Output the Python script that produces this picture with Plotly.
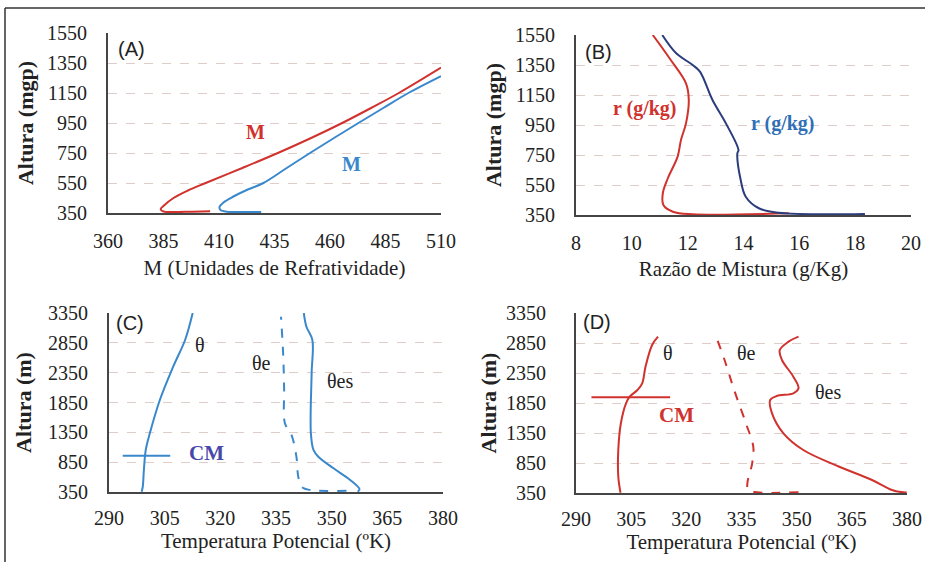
import plotly.graph_objects as go

W, H = 925, 562

# ---------------- data ----------------
# Panel A: Refractivity M vs height
a_red_x = [406, 398, 389, 385, 383.7, 385.2, 389.5, 396, 404, 420.5, 436.5, 451.5, 465.5, 478.5, 491, 510]
a_red_y = [362, 359, 356, 360, 375, 400, 450, 500, 550, 650, 750, 850, 950, 1050, 1150, 1319]
a_blue_x = [429, 420, 413.5, 410.8, 410.2, 412, 416.5, 422, 430, 440.5, 451, 461.8, 472.8, 484, 495.3, 510]
a_blue_y = [357, 356, 359, 368, 388, 420, 460, 500, 550, 650, 750, 850, 950, 1050, 1150, 1263]
a_xticks = [360, 385, 410, 435, 460, 485, 510]
a_yticks = [350, 550, 750, 950, 1150, 1350, 1550]

# Panel B: mixing ratio
b_red_x = [15.62, 12.18, 11.47, 11.13, 11.11, 11.29, 11.64, 11.76, 11.94, 12.04, 11.94, 11.35, 10.75]
b_red_y = [361, 355, 372, 417, 495, 595, 739, 850, 961, 1117, 1228, 1395, 1550]
b_blue_x = [18.35, 15.26, 14.55, 14.08, 13.90, 13.78, 13.82, 13.37, 12.89, 12.44, 12.18, 11.59, 11.09]
b_blue_y = [357, 365, 395, 472, 583, 761, 783, 961, 1117, 1306, 1350, 1428, 1550]
b_xticks = [8, 10, 12, 14, 16, 18, 20]
b_yticks = [350, 550, 750, 950, 1150, 1350, 1550]

# Panel C: potential temperatures (blue case)
c_theta_x = [298.8, 299.1, 299.4, 299.9, 301.0, 303.7, 307.3, 310.5, 312.55]
c_theta_y = [355, 438, 718, 1054, 1333, 1892, 2451, 2898, 3350]
c_thetae_x = [354.0, 344.2, 341.9, 341.0, 340.5, 339.2, 337.4, 337.2, 336.96, 336.35]
c_thetae_y = [372, 384, 439, 606, 942, 1305, 1501, 2060, 2618, 3288]
c_thetaes_x = [357.0, 357.5, 355.0, 350.5, 346.4, 345.1, 344.4, 344.6, 344.8, 343.2, 342.5]
c_thetaes_y = [355, 395, 551, 747, 942, 1054, 1333, 2339, 2898, 3120, 3350]
c_cm_x = [293.7, 306.5]
c_cm_y = [959, 959]

# Panel D: potential temperatures (red case)
d_theta_x = [302.1, 301.5, 301.5, 302.2, 303.6, 304.6, 306.7, 308.0, 308.9, 310.7, 312.3]
d_theta_y = [355, 622, 1067, 1512, 1845, 1955, 2067, 2178, 2455, 2817, 2955]
d_thetae_x = [350.5, 339.3, 336.8, 336.6, 337.9, 338.2, 336.2, 333.0, 330.4, 328.1]
d_thetae_y = [361, 361, 400, 512, 845, 1122, 1512, 2067, 2567, 2955]
d_thetaes_x = [379.9, 379.0, 375.9, 370.5, 361.6, 351.8, 346.4, 343.3, 342.8, 344.6, 349.1,
               350.5, 349.1, 346.0, 345.4, 347.8, 350.5]
d_thetaes_y = [361, 361, 400, 567, 788, 1067, 1345, 1678, 1900, 1967, 2012,
               2095, 2288, 2567, 2733, 2872, 2955]
d_cm_x = [294.2, 315.6]
d_cm_y = [1944, 1944]

t_xticks = [290, 305, 320, 335, 350, 365, 380]
t_yticks = [350, 850, 1350, 1850, 2350, 2850, 3350]

# ---------------- style ----------------
RED = "#d0322e"
BLUE = "#3a88cc"
NAVY = "#2a3c7c"
SERIF = "Liberation Serif"
SANS = "Liberation Sans"
AXC = "#454545"
GRID = "#dfcdca"


def px2paper(px, py):
    return px / W, 1 - py / H


fig = go.Figure()


def line(x, y, color, xa, ya, dash="solid", shape="spline", width=2):
    fig.add_trace(go.Scatter(x=x, y=y, mode="lines", xaxis=xa, yaxis=ya,
                             line=dict(color=color, width=width, dash=dash,
                                       shape=shape, smoothing=1.0),
                             showlegend=False, hoverinfo="skip"))


line(a_red_x, a_red_y, RED, "x", "y")
line(a_blue_x, a_blue_y, BLUE, "x", "y")
line(b_red_x, b_red_y, RED, "x2", "y2")
line(b_blue_x, b_blue_y, NAVY, "x2", "y2")
line(c_theta_x, c_theta_y, BLUE, "x3", "y3")
line(c_thetae_x, c_thetae_y, BLUE, "x3", "y3", dash="dash")
line(c_thetaes_x, c_thetaes_y, BLUE, "x3", "y3")
line(c_cm_x, c_cm_y, BLUE, "x3", "y3", shape="linear")
line(d_theta_x, d_theta_y, RED, "x4", "y4")
line(d_thetae_x, d_thetae_y, RED, "x4", "y4", dash="dash")
line(d_thetaes_x, d_thetaes_y, RED, "x4", "y4")
line(d_cm_x, d_cm_y, RED, "x4", "y4", shape="linear")


def xaxis(domain, rng, ticks, anchor, title, standoff=6, tstand=9):
    return dict(domain=domain, range=rng, tickvals=ticks, anchor=anchor,
                showgrid=False, zeroline=False, showline=True, linecolor=AXC,
                linewidth=2, ticks="", automargin=False, ticklabelstandoff=tstand,
                ticklabeloverflow="allow",
                tickfont=dict(family=SERIF, size=20, color="#222"),
                title=dict(text=title, standoff=standoff,
                           font=dict(family=SERIF, size=21, color="#222")))


def yaxis(domain, rng, ticks, anchor, title, tstand=15, standoff=4):
    return dict(domain=domain, range=rng, tickvals=ticks, anchor=anchor,
                showgrid=True, gridcolor=GRID, griddash="dash", gridwidth=1,
                zeroline=False, showline=True, linecolor=AXC, linewidth=2,
                ticks="", automargin=False, ticklabelstandoff=tstand,
                tickfont=dict(family=SERIF, size=20, color="#222"),
                title=dict(text="<b>" + title + "</b>", standoff=standoff,
                           font=dict(family=SERIF, size=22, color="#222")))


fig.update_layout(
    width=W, height=H, margin=dict(l=0, r=0, t=0, b=0),
    paper_bgcolor="white", plot_bgcolor="white", showlegend=False,
    xaxis=xaxis([108 / W, 441 / W], [360, 510], a_xticks, "y", "M (Unidades de Refratividade)", 9),
    yaxis=yaxis([1 - 213 / H, 1 - 33 / H], [350, 1550], a_yticks, "x", "Altura (mgp)", 15, 7),
    xaxis2=xaxis([576 / W, 911 / W], [8, 20], b_xticks, "y2", "Razão de Mistura (g/Kg)", 8),
    yaxis2=yaxis([1 - 215 / H, 1 - 35 / H], [350, 1550], b_yticks, "x2", "Altura (mgp)", 15, 7),
    xaxis3=xaxis([109 / W, 443 / W], [290, 380], t_xticks, "y3", "Temperatura Potencial (ºK)", 0, 7),
    yaxis3=yaxis([1 - 492 / H, 1 - 313 / H], [350, 3350], t_yticks, "x3", "Altura (m)", 15, 10),
    xaxis4=xaxis([576 / W, 907 / W], [290, 380], t_xticks, "y4", "Temperatura Potencial (ºK)", 0, 7),
    yaxis4=yaxis([1 - 493 / H, 1 - 313 / H], [350, 3350], t_yticks, "x4", "Altura (m)", 24, 3),
)

# outer frame (top and left edges of the figure border)
fig.add_shape(type="line", xref="paper", yref="paper", x0=5 / W, x1=1, y0=1 - 8 / H, y1=1 - 8 / H,
              line=dict(color="#333", width=1.5))
fig.add_shape(type="line", xref="paper", yref="paper", x0=5 / W, x1=5 / W, y0=0, y1=1 - 8 / H,
              line=dict(color="#333", width=1.5))

labels = [
    ("(A)", 131.7, 49.3, SANS, 20, "#222", False),
    ("M", 255, 132, SERIF, 20, RED, True),
    ("M", 351.7, 164, SERIF, 20, BLUE, True),
    ("(B)", 598.3, 51.7, SANS, 20, "#222", False),
    ("r (g/kg)", 645, 108.3, SERIF, 20, RED, True),
    ("r (g/kg)", 783.3, 124, SERIF, 20, "#2f6fb8", True),
    ("(C)", 130, 323.3, SANS, 20, "#222", False),
    ("θ", 200, 345, SERIF, 20, "#222", False),
    ("θe", 261.7, 363.3, SERIF, 20, "#222", False),
    ("θes", 340, 380.7, SERIF, 20, "#222", False),
    ("CM", 206.7, 452.7, SERIF, 21, "#4848a8", True),
    ("(D)", 596.7, 321.7, SANS, 20, "#222", False),
    ("θ", 668.3, 353.3, SERIF, 20, "#222", False),
    ("θe", 746, 353.3, SERIF, 20, "#222", False),
    ("θes", 828.3, 391.7, SERIF, 20, "#222", False),
    ("CM", 676.7, 415, SERIF, 21, RED, True),
]
for txt, px, py, fam, size, col, bold in labels:
    xp, yp = px2paper(px, py)
    fig.add_annotation(x=xp, y=yp, xref="paper", yref="paper", showarrow=False,
                       text=("<b>%s</b>" % txt) if bold else txt,
                       xanchor="center", yanchor="middle",
                       font=dict(family=fam, size=size, color=col))

fig.write_html("out.html", config={"displayModeBar": False},
               post_script="document.body.style.margin='0px';")
